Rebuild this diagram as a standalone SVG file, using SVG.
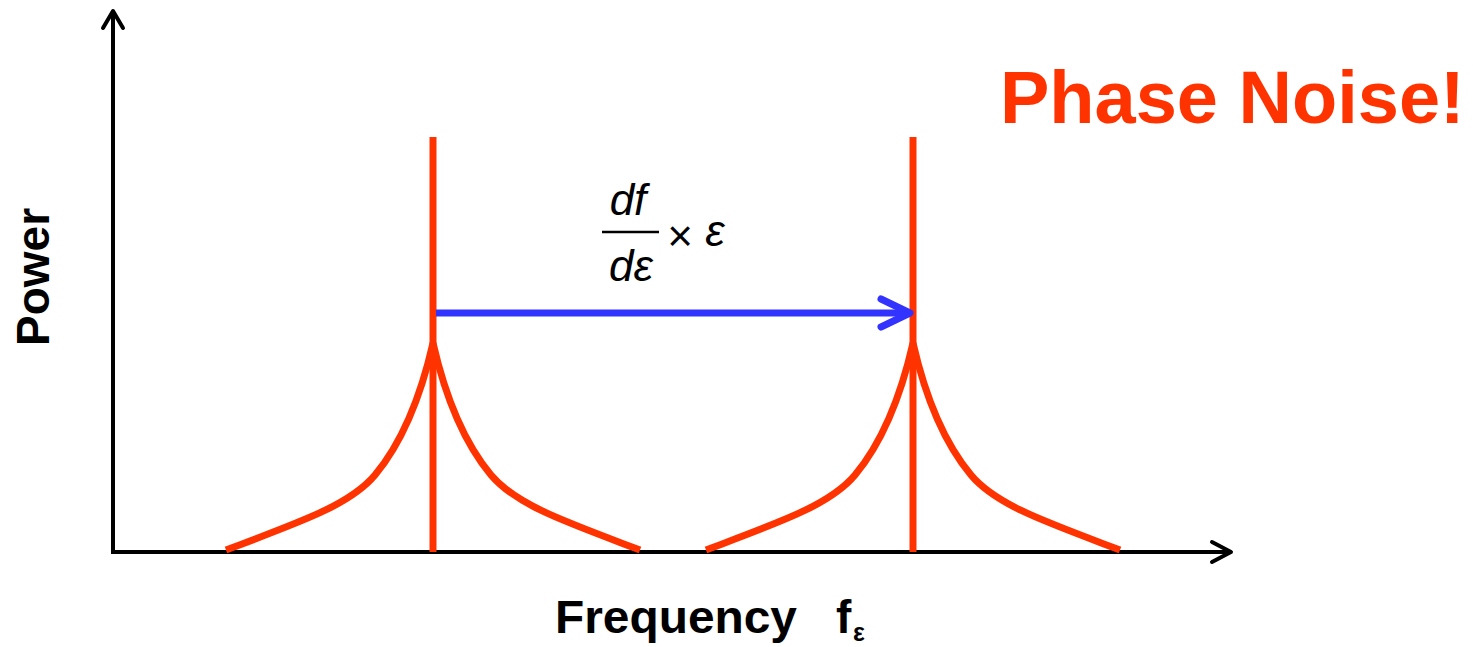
<svg xmlns="http://www.w3.org/2000/svg" width="1473" height="647" viewBox="0 0 1473 647">
  <style>
    .axis { stroke: #000; stroke-width: 4; fill: none; }
    .axhead { stroke: #000; stroke-width: 4; fill: none; stroke-linecap: round; stroke-linejoin: round; }
    .red { stroke: #ff3300; stroke-width: 7; fill: none; }
    .blue { stroke: #3333ff; stroke-width: 7; fill: none; stroke-linecap: round; stroke-linejoin: round; }
    .lbl { font-family: "Liberation Sans", Arial, sans-serif; font-weight: bold; fill: #000; }
    .math { font-family: "Liberation Sans", Arial, sans-serif; font-style: italic; fill: #000; }
  </style>
  <rect width="1473" height="647" fill="#fff"/>
  <g id="axes">
    <line class="axis" x1="113" y1="554" x2="113" y2="12"/>
    <polyline class="axhead" points="103,28 113,11 123,28"/>
    <line class="axis" x1="111" y1="552" x2="1230" y2="552"/>
    <polyline class="axhead" points="1212,542 1231,552 1212,562"/>
  </g>
  <g id="peak1">
    <line class="red" x1="433" y1="137" x2="433" y2="552"/>
    <path class="red" d="M226,550 C300,522 350,505 375,475 C400,445 420,400 433,343 C446,400 466,445 491,475 C516,505 566,522 640,550"/>
  </g>
  <g id="peak2">
    <line class="red" x1="913" y1="137" x2="913" y2="552"/>
    <path class="red" d="M706,550 C780,522 830,505 855,475 C880,445 900,400 913,343 C926,400 946,445 971,475 C996,505 1046,522 1120,550"/>
  </g>
  <g id="connectors">
    <line class="blue" x1="436" y1="313" x2="908" y2="313" style="stroke-linecap:butt"/>
    <polyline class="blue" points="881,299 910,313 881,327"/>
  </g>
  <g id="shift-label">
    <text class="math" x="628" y="215" font-size="44" text-anchor="middle">df</text>
    <line x1="602" y1="232" x2="659" y2="232" stroke="#000" stroke-width="2.5"/>
    <text class="math" x="631" y="281" font-size="44" text-anchor="middle">dε</text>
    <text x="680" y="251" font-family="Liberation Sans, Arial, sans-serif" font-size="44" text-anchor="middle" fill="#000">×</text>
    <text class="math" x="715" y="246" font-size="44" text-anchor="middle">ε</text>
  </g>
  <g id="title">
    <text x="1000" y="123" font-family="Liberation Sans, Arial, sans-serif" font-weight="bold" font-size="74" fill="#ff3300">Phase Noise!</text>
  </g>
  <g id="ylabel">
    <text class="lbl" font-size="46" transform="translate(49,346) rotate(-90)">Power</text>
  </g>
  <g id="xlabel">
    <text class="lbl" x="555" y="633" font-size="46" textLength="242" lengthAdjust="spacingAndGlyphs">Frequency</text>
    <text class="lbl" x="836" y="633" font-size="46">f</text>
    <text class="lbl" x="853" y="641" font-size="25">ε</text>
  </g>
</svg>
